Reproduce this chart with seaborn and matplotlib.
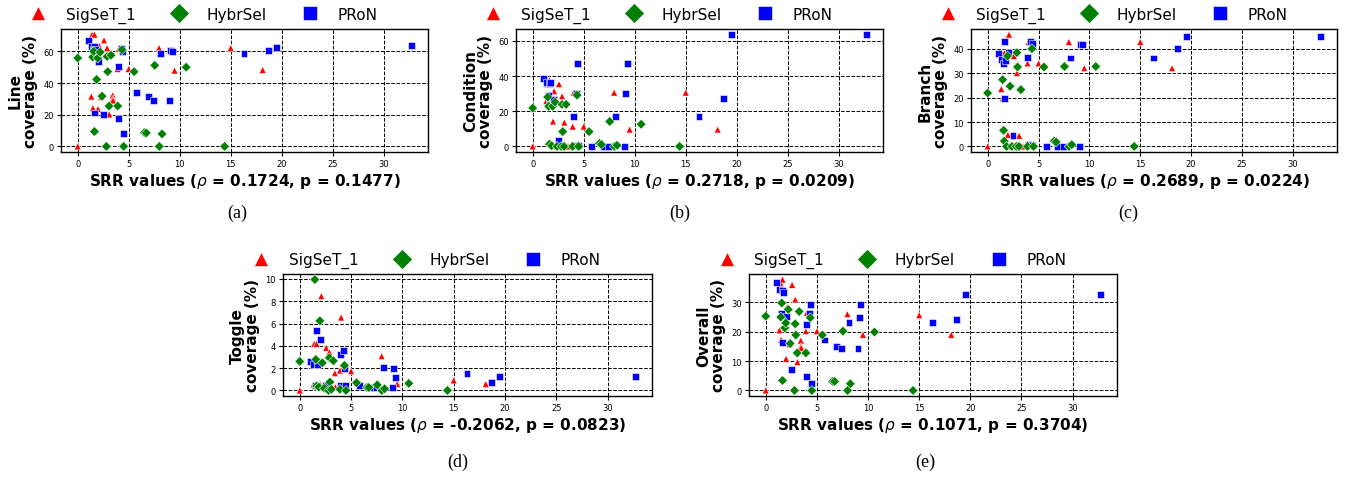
import matplotlib
matplotlib.use('Agg')
import matplotlib.pyplot as plt
import seaborn as sns
import pandas as pd
from matplotlib.ticker import MultipleLocator

# ---------------- data ----------------
methods = ['SigSeT_1', 'HybrSel', 'PRoN']

srr_sigset = [0.0, 1.34, 1.41, 1.50, 1.64, 1.99, 2.10, 2.32, 2.58, 2.88, 3.10,
              3.43, 3.45, 3.47, 3.92, 4.03, 5.00, 7.98, 9.50, 15.00, 18.13]
line_sigset = [0, 31.5, 70.6, 24.2, 70.6, 23.6, 63.6, 31.3, 67.0, 62.1, 20.2,
               32.3, 30.1, 29.0, 48.9, 61.7, 48.9, 62.1, 47.9, 62.1, 48.3]
cond_sigset = [0, 25.8, 35.4, 36.0, 37.7, 14.2, 31.4, 0, 35.4, 28.5, 13.6,
               0, 0, 0, 11.3, 30.6, 11.3, 30.6, 9.6, 30.6, 9.6]
branch_sigset = [0, 23.6, 35.6, 19.7, 38.3, 4.8, 45.9, 0, 37.1, 30.1, 4.4,
                 0, 0, 0, 34.1, 42.9, 34.1, 42.9, 32.1, 42.9, 32.1]
toggle_sigset = [0, 0.54, 4.18, 0.5, 4.18, 0.54, 8.45, 0.3, 3.82, 3.43, 0.45,
                 1.55, 0.27, 0.3, 1.79, 6.54, 1.73, 3.07, 0.57, 0.9, 0.57]
overall_sigset = [0, 20.5, 36.7, 17.3, 37.8, 10.8, 28.4, 15.7, 36.0, 31.0, 9.7,
                  17.0, 15.1, 14.5, 20.2, 26.5, 20.2, 26.0, 19.0, 25.7, 19.0]

srr_hybrsel = [0.0, 1.47, 1.57, 1.64, 1.86, 1.96, 2.20, 2.39, 2.81, 2.88, 2.94, 3.08,
               3.27, 3.92, 4.35, 4.51, 5.53, 6.54, 6.73, 7.55, 8.00, 8.27, 10.63, 14.40]
line_hybrsel = [55.8, 56.4, 60.0, 9.4, 42.3, 55.8, 59.5, 31.7, 0, 56.8, 47.2, 25.5,
                57.6, 25.5, 61.0, 0, 47.2, 8.7, 8.5, 51.2, 0, 7.9, 50.0, 0]
cond_hybrsel = [21.8, 28.1, 22.8, 1.3, 0.4, 22.8, 25.2, 0, 0, 23.9, 8.4, 0,
                23.9, 0, 29.2, 0, 8.4, 1.7, 1.1, 14.2, 0, 0.6, 12.6, 0]
branch_hybrsel = [21.9, 27.4, 6.6, 2.2, 0, 37.1, 24.7, 0, 0, 38.5, 32.6, 0,
                  23.3, 0, 40.1, 0, 32.6, 2.2, 1.8, 32.8, 0, 0.7, 32.8, 0]
toggle_hybrsel = [2.6, 9.94, 2.78, 0.4, 0.3, 6.24, 2.48, 0.2, 0, 2.93, 0.75, 0.1,
                  2.66, 0.1, 2.24, 0, 0.69, 0.27, 0.27, 0.5, 0, 0.15, 0.63, 0]
overall_hybrsel = [25.3, 25.0, 29.8, 3.4, 21.3, 23.0, 27.6, 16.0, 0, 22.7, 18.9, 12.8,
                   26.9, 12.8, 24.8, 0, 18.9, 3.1, 3.1, 20.2, 0, 2.3, 19.9, 0]

srr_pron = [1.08, 1.37, 1.55, 1.62, 1.68, 1.72, 2.05, 2.49, 3.96, 3.99, 4.25, 4.38,
            4.45, 5.78, 6.90, 7.45, 8.14, 9.02, 9.13, 9.29, 16.30, 18.66, 19.50, 32.70]
line_pron = [67.0, 63.2, 61.0, 21.1, 62.8, 61.5, 53.6, 20.2, 50.6, 17.4, 61.7, 59.8,
             7.9, 34.0, 31.3, 28.7, 58.9, 28.7, 60.8, 60.2, 58.9, 60.4, 62.3, 63.8]
cond_pron = [38.7, 36.6, 28.9, 23.9, 35.7, 36.5, 26.8, 3.3, 17.0, 0.6, 30.0, 47.4,
             0.6, 0, 0, 0, 17.0, 0, 30.0, 47.4, 17.0, 27.3, 63.6, 63.6]
branch_pron = [38.3, 35.6, 34.2, 19.7, 43.2, 35.2, 38.5, 4.4, 36.6, 0.7, 43.2, 42.2,
               0.5, 0, 0, 0, 36.3, 0, 41.7, 42.0, 36.3, 40.0, 45.1, 45.0]
toggle_pron = [2.6, 2.3, 0.45, 5.4, 2.3, 2.3, 4.57, 0.45, 3.19, 0.45, 3.58, 1.94,
               0.45, 0.45, 0.27, 0.27, 2.09, 0.27, 1.94, 1.16, 1.49, 0.75, 1.25, 1.25]
overall_pron = [36.7, 34.4, 26.4, 16.3, 34.2, 33.5, 25.2, 7.2, 22.4, 4.9, 26.1, 29.2,
                2.3, 17.2, 15.1, 14.4, 23.3, 14.4, 25.0, 29.2, 23.3, 24.1, 32.7, 32.7]

metric_names = ['Line', 'Condition', 'Branch', 'Toggle', 'Overall']
rho_values = ['0.1724', '0.2718', '0.2689', '-0.2062', '0.1071']
p_values = ['0.1477', '0.0209', '0.0224', '0.0823', '0.3704']
panel_tags = ['(a)', '(b)', '(c)', '(d)', '(e)']
ytick_steps = [20, 20, 10, 2, 10]

coverage = {
    'Line': (line_sigset, line_hybrsel, line_pron),
    'Condition': (cond_sigset, cond_hybrsel, cond_pron),
    'Branch': (branch_sigset, branch_hybrsel, branch_pron),
    'Toggle': (toggle_sigset, toggle_hybrsel, toggle_pron),
    'Overall': (overall_sigset, overall_hybrsel, overall_pron),
}

# ---------------- layout ----------------
W, H = 1347, 481
# (left, top, right, bottom) in pixels for each axes
boxes = [(61, 30, 428, 153), (516, 30, 883, 153), (971, 30, 1337, 153),
         (283, 275, 652, 397), (749, 275, 1117, 397)]
tag_pos = [(237, 213), (680, 213), (1128, 213), (458, 462), (925, 462)]

sns.set_style('ticks')
plt.rcParams['font.family'] = ['DejaVu Sans']
plt.rcParams['text.color'] = 'black'
plt.rcParams['axes.labelcolor'] = 'black'

fig = plt.figure(figsize=(W / 100, H / 100), dpi=100)

palette = {'SigSeT_1': 'red', 'HybrSel': 'green', 'PRoN': 'blue'}
markers = {'SigSeT_1': '^', 'HybrSel': 'D', 'PRoN': 's'}

for i, name in enumerate(metric_names):
    l, t, r, b = boxes[i]
    ax = fig.add_axes([l / W, 1 - b / H, (r - l) / W, (b - t) / H])
    sig, hyb, pro = coverage[name]
    df = pd.concat([
        pd.DataFrame({'SRR': srr_sigset, 'cov': sig, 'method': 'SigSeT_1'}),
        pd.DataFrame({'SRR': srr_pron, 'cov': pro, 'method': 'PRoN'}),
        pd.DataFrame({'SRR': srr_hybrsel, 'cov': hyb, 'method': 'HybrSel'}),
    ], ignore_index=True)
    sns.scatterplot(data=df, x='SRR', y='cov', hue='method', style='method',
                    hue_order=methods, style_order=methods, palette=palette,
                    markers=markers, s=25, ax=ax, zorder=3)
    ax.set_axisbelow(True)
    ax.grid(True, linestyle='--', color='black', linewidth=0.7)
    ax.xaxis.set_major_locator(MultipleLocator(5))
    ax.yaxis.set_major_locator(MultipleLocator(ytick_steps[i]))
    ax.tick_params(labelsize=6, length=3, width=0.8, pad=2, colors='black')
    for sp in ax.spines.values():
        sp.set_visible(True)
        sp.set_color('black')
        sp.set_linewidth(1.0)
    ax.set_xlabel(f'SRR values ($\\rho$ = {rho_values[i]}, p = {p_values[i]})',
                  fontsize=11, fontweight='bold', labelpad=2, color='black')
    ax.set_ylabel(f'{name}\ncoverage (%)', fontsize=11, fontweight='bold',
                  labelpad=4, linespacing=1.0, color='black')
    handles, labels = ax.get_legend_handles_labels()
    ax.legend(handles, labels, loc='center', bbox_to_anchor=(0.38, 1.115), ncol=3,
              frameon=False, fontsize=11, markerscale=2.1, columnspacing=1.85,
              handletextpad=0.8, borderaxespad=0)
    tx, ty = tag_pos[i]
    fig.text(tx / W, 1 - ty / H, panel_tags[i], ha='center', va='center',
             fontsize=13, family='Liberation Serif', color='black')

fig.savefig('out.png', dpi=100)
